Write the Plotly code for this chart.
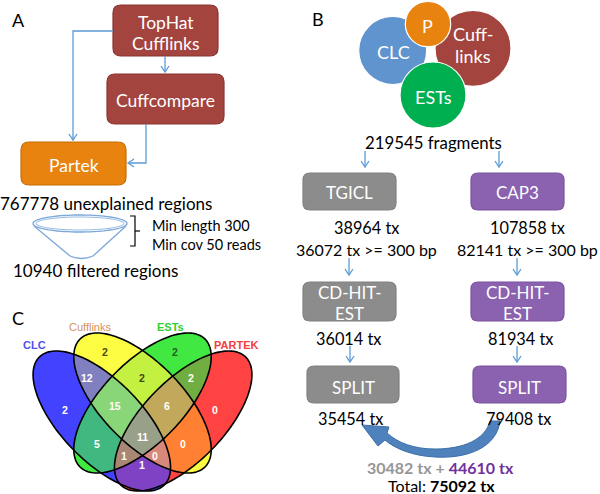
import numpy as np
import plotly.graph_objects as go

# ---------------- data ----------------
# Panel A
a_tools = ["TopHat", "Cufflinks", "Cuffcompare", "Partek"]
a_unexplained = 767778
a_filtered = 10940
a_min_length = 300
a_min_cov = 50

# Panel B
b_sources = ["CLC", "P", "Cuff-", "links", "ESTs"]
b_fragments = 219545
b_left_steps = ["TGICL", "CD-HIT-", "EST", "SPLIT"]
b_tgicl_tx = [38964, 36072, 36014, 35454]
b_cap3_tx = [107858, 82141, 81934, 79408]
b_min_bp = 300
b_selected = [30482, 44610]
b_total = 75092

# Panel C (Venn): set names and counts per region (bitmask CLC=1, Cufflinks=2, ESTs=4, PARTEK=8)
venn_sets = ["CLC", "Cufflinks", "ESTs", "PARTEK"]
venn_masks = [1, 2, 4, 8, 3, 6, 12, 5, 10, 9, 7, 14, 13, 11, 15]
venn_counts = [2, 2, 2, 0, 12, 2, 2, 5, 0, 1, 15, 6, 1, 0, 11]

# ---------------- layout helpers ----------------
FONT = "Lato, 'Noto Sans', sans-serif"
ARROW = "#5B9BD5"
shapes = []
annots = []


def txt(x, y, s, size=16, color="black", family=FONT, xanchor="center"):
    annots.append(dict(x=x, y=y, xref="x", yref="y", text=s, showarrow=False,
                       xanchor=xanchor, yanchor="middle",
                       font=dict(size=size, color=color, family=family)))


def rrect(x0, y0, x1, y1, fill, line, r=7, lw=1.2):
    p = (f"M {x0+r} {y0} L {x1-r} {y0} Q {x1} {y0} {x1} {y0+r} L {x1} {y1-r} "
         f"Q {x1} {y1} {x1-r} {y1} L {x0+r} {y1} Q {x0} {y1} {x0} {y1-r} "
         f"L {x0} {y0+r} Q {x0} {y0} {x0+r} {y0} Z")
    shapes.append(dict(type="path", path=p, fillcolor=fill,
                       line=dict(color=line, width=lw), xref="x", yref="y"))


def polyline(pts, color=ARROW, w=1.3):
    p = "M " + " L ".join(f"{x} {y}" for x, y in pts)
    shapes.append(dict(type="path", path=p, line=dict(color=color, width=w),
                       xref="x", yref="y"))


def head(x, y, dx, dy, color=ARROW, L=6, W=4):
    # V shaped arrow head at (x,y) pointing along (dx,dy)
    n = (dx * dx + dy * dy) ** 0.5
    ux, uy = dx / n, dy / n
    px, py = -uy, ux
    bx, by = x - ux * L, y - uy * L
    polyline([(bx + px * W, by + py * W), (x, y), (bx - px * W, by - py * W)], color)


def arrow(pts, color=ARROW):
    polyline(pts, color)
    (x0, y0), (x1, y1) = pts[-2], pts[-1]
    head(x1, y1, x1 - x0, y1 - y0, color)


# ---------------- Panel A ----------------
txt(18, 20, "A", 18)
RED, REDL = "#A3443F", "#8A3531"
ORG, ORGL = "#E8830F", "#C86C05"
rrect(113, 5, 218, 56, RED, REDL, 8)
rrect(107, 74, 224, 124, RED, REDL, 8)
rrect(21, 142, 126, 185, ORG, ORGL, 8)
txt(165.5, 22, a_tools[0], 17.5, "white")
txt(165.5, 43, a_tools[1], 17.5, "white")
txt(165.5, 100, a_tools[2], 17.5, "white")
txt(73.5, 165, a_tools[3], 17.5, "white")
arrow([(165, 56), (165, 72)])
arrow([(113, 31), (73, 31), (73, 140)])
arrow([(146, 124), (146, 163), (128, 163)])
txt(106, 203, f"{a_unexplained} unexplained regions", 17)
# funnel
FUN = "#7BA7D9"
t = np.linspace(0, 2 * np.pi, 80)
ell = " L ".join(f"{80+47*np.cos(a):.1f} {223.5+8.5*np.sin(a):.1f}" for a in t)
shapes.append(dict(type="path", path="M " + ell + " Z", line=dict(color=FUN, width=1.3), xref="x", yref="y"))
ell2 = " L ".join(f"{80+44*np.cos(a):.1f} {223.5+6.5*np.sin(a):.1f}" for a in t)
shapes.append(dict(type="path", path="M " + ell2 + " Z", line=dict(color=FUN, width=0.8), xref="x", yref="y"))
polyline([(34, 226), (70, 256)], FUN, 1.3)
polyline([(126, 226), (93, 256)], FUN, 1.3)
shapes.append(dict(type="path", path="M 70 256 Q 81.5 261 93 256", line=dict(color=FUN, width=1.3), xref="x", yref="y"))
# bracket
polyline([(130, 216), (135, 216), (135, 246), (130, 246)], "black", 1.2)
polyline([(135, 231), (140, 231)], "black", 1.2)
txt(150, 225, f"Min length {a_min_length}", 14.5, xanchor="left")
txt(150, 244, f"Min cov {a_min_cov} reads", 14.5, xanchor="left")
txt(95.5, 270, f"{a_filtered} filtered regions", 17)

# ---------------- Panel B ----------------
txt(318, 19, "B", 18)
circ = [
    (392.7, 50.5, 34, "#6094CE"),
    (473, 48.3, 38, "#A3443F"),
    (433, 95, 33, "#00B050"),
    (428, 24, 22.7, "#E8830F"),
]
for cx, cy, r, col in circ:
    shapes.append(dict(type="circle", x0=cx - r, x1=cx + r, y0=cy - r, y1=cy + r,
                       fillcolor=col, line=dict(color="white", width=1.2), xref="x", yref="y"))
txt(393, 52, b_sources[0], 18, "white")
txt(427, 26, b_sources[1], 18, "white")
txt(473, 34, b_sources[2], 18, "white")
txt(473, 56, b_sources[3], 18, "white")
txt(433, 97, b_sources[4], 18, "white")
txt(433, 142, f"{b_fragments} fragments", 16.8)
arrow([(365, 151), (365, 167)])
arrow([(499, 151), (499, 167)])

GRY, GRYL = "#8C8C8C", "#808080"
PUR, PURL = "#8A62B0", "#7A52A0"
rrect(303, 173, 396, 210, GRY, GRYL, 7)
rrect(471, 173, 564, 210, PUR, PURL, 7)
txt(349.5, 192, b_left_steps[0], 17, "white")
txt(517.5, 192, "CAP3", 17, "white")
txt(366, 227, f"{b_tgicl_tx[0]} tx", 16.3)
txt(366, 249, f"{b_tgicl_tx[1]} tx &gt;= {b_min_bp} bp", 16)
txt(527.5, 227, f"{b_cap3_tx[0]} tx", 16.3)
txt(527.5, 249, f"{b_cap3_tx[1]} tx &gt;= {b_min_bp} bp", 16)
arrow([(349, 258), (349, 275)])
arrow([(517, 258), (517, 275)])
rrect(303, 282, 396, 321, GRY, GRYL, 7)
rrect(471, 282, 564, 321, PUR, PURL, 7)
for cx in (349.5, 517.5):
    txt(cx, 292, b_left_steps[1], 17, "white")
    txt(cx, 313, b_left_steps[2], 17, "white")
txt(348, 338, f"{b_tgicl_tx[2]} tx", 16.3)
txt(520, 338, f"{b_cap3_tx[2]} tx", 16.3)
arrow([(350, 346), (350, 362)])
arrow([(517, 346), (517, 362)])
rrect(307, 366, 399, 403, GRY, GRYL, 7)
rrect(473, 366, 566, 403, PUR, PURL, 7)
txt(353, 387, b_left_steps[3], 17, "white")
txt(519.5, 387, b_left_steps[3], 17, "white")
txt(350, 418, f"{b_tgicl_tx[3]} tx", 16.3)
txt(518, 418, f"{b_cap3_tx[3]} tx", 16.3)
# curved arrow
cpath = ("M 500 421 C 497 447, 468 459, 435 457 C 412 456, 394 448, 385 440 "
         "L 378 446 L 362 425 L 389 427 L 387 433 "
         "C 398 443, 414 449, 435 449 C 463 449, 485 440, 490 421 Z")
shapes.append(dict(type="path", path=cpath, fillcolor="#4F81BD",
                   line=dict(color="#3E6FA8", width=1), xref="x", yref="y"))
txt(440, 467, f"<b><span style='color:#969696'>{b_selected[0]} tx</span> + "
    f"<span style='color:#7030A0'>{b_selected[1]} tx</span></b>", 16, "#969696")
txt(441, 485, f"Total: <b>{b_total} tx</b>", 16)

# ---------------- Panel C (Venn) ----------------
txt(18, 318, "C", 18)
A_, B_ = 89.4, 40.4
PHI = np.deg2rad(45.8)
ellipses = [  # cx, cy, angle (screen)
    (101.8, 421.0, PHI),   # CLC
    (142.5, 403.0, PHI),   # Cufflinks
    (142.5, 403.0, -PHI),  # ESTs
    (183.2, 421.0, -PHI),  # PARTEK
]
region_rgb = {
    0: (255, 255, 255), 1: (66, 66, 255), 2: (252, 252, 66), 4: (66, 232, 66), 8: (255, 66, 66),
    3: (128, 128, 192), 6: (196, 240, 66), 12: (112, 174, 66), 5: (64, 184, 128),
    10: (255, 128, 50), 9: (128, 66, 196), 7: (136, 214, 120), 14: (194, 168, 90),
    13: (168, 136, 114), 11: (216, 136, 122), 15: (152, 160, 138),
}
gx0, gx1, gy0, gy1 = 26, 260, 326, 494
xs = np.arange(gx0, gx1) + 0.5
ys = np.arange(gy0, gy1) + 0.5
X, Y = np.meshgrid(xs, ys)
M = np.zeros(X.shape, dtype=int)
for i, (cx, cy, ph) in enumerate(ellipses):
    u = (X - cx) * np.cos(ph) + (Y - cy) * np.sin(ph)
    v = -(X - cx) * np.sin(ph) + (Y - cy) * np.cos(ph)
    M |= ((u / A_) ** 2 + (v / B_) ** 2 <= 1).astype(int) << i
lut = np.array([region_rgb.get(k, (255, 255, 255)) for k in range(16)], dtype=np.uint8)
img = lut[M]

for cx, cy, ph in ellipses:
    tt = np.linspace(0, 2 * np.pi, 160)
    ex = cx + A_ * np.cos(tt) * np.cos(ph) - B_ * np.sin(tt) * np.sin(ph)
    ey = cy + A_ * np.cos(tt) * np.sin(ph) + B_ * np.sin(tt) * np.cos(ph)
    p = "M " + " L ".join(f"{a:.2f} {b:.2f}" for a, b in zip(ex, ey)) + " Z"
    shapes.append(dict(type="path", path=p, line=dict(color="black", width=1.6), xref="x", yref="y"))

label_pos = {1: (65, 410), 2: (105, 352), 4: (175, 352), 8: (215, 410), 3: (87, 378),
             6: (142, 378), 12: (191, 378), 5: (97, 444), 10: (183, 444), 9: (142, 465),
             7: (115, 406), 14: (167, 406), 13: (124, 456), 11: (155, 456), 15: (142, 437)}
dark = {2: "#4a4a10", 6: "#3a4a10", 4: "#1f5f1f"}
for m, c in zip(venn_masks, venn_counts):
    x, y = label_pos[m]
    txt(x, y, f"<b>{c}</b>", 10.5, dark.get(m, "white"), "Liberation Sans, Arial, sans-serif")

txt(34, 345, f"<b>{venn_sets[0]}</b>", 11, "#5050F0", "Liberation Sans, Arial, sans-serif")
txt(90, 327, venn_sets[1], 11, "#D4935F", "Liberation Sans, Arial, sans-serif")
txt(170, 327, f"<b>{venn_sets[2]}</b>", 11, "#30D030", "Liberation Sans, Arial, sans-serif")
txt(236, 345, f"<b>{venn_sets[3]}</b>", 11, "#F04040", "Liberation Sans, Arial, sans-serif")

fig = go.Figure()
fig.add_trace(go.Image(z=img.tolist(), x0=gx0 + 0.5, dx=1, y0=gy0 + 0.5, dy=1,
                       colormodel="rgb", hoverinfo="skip"))
fig.update_layout(
    width=600, height=494, margin=dict(l=0, r=0, t=0, b=0),
    paper_bgcolor="white", plot_bgcolor="white",
    xaxis=dict(range=[0, 600], visible=False, fixedrange=True),
    yaxis=dict(range=[494, 0], visible=False, fixedrange=True, scaleanchor="x", scaleratio=1),
    shapes=shapes, annotations=annots, showlegend=False,
)
fig.write_html("out.html", config={"displayModeBar": False},
               post_script="document.body.style.margin='0';document.body.style.padding='0';")
